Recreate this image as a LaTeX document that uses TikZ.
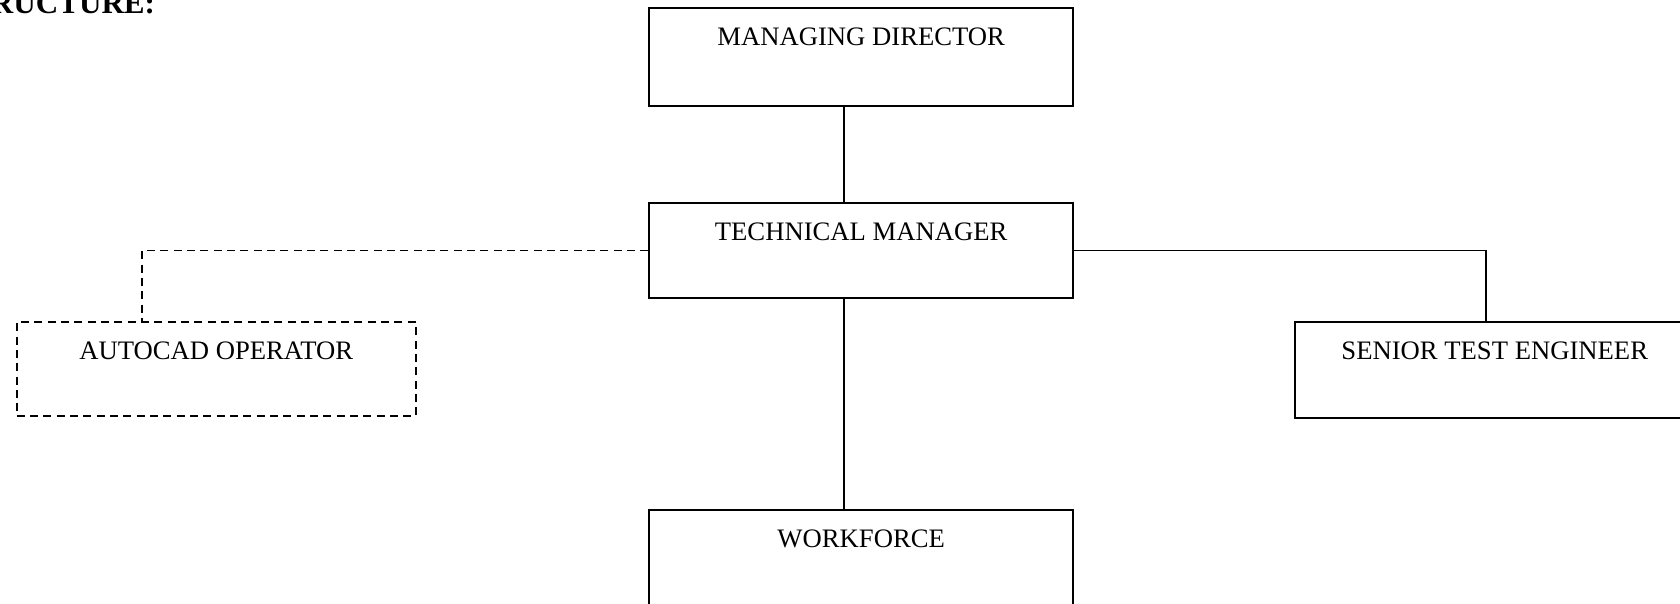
\documentclass[tikz,border=0pt]{standalone}
\usepackage{fontspec}
\setmainfont{Liberation Serif}
\tikzset{
	orgbox/.style={draw=black, line width=0.75pt, anchor=north, minimum width=6.71cm, inner ysep=0pt, text height=0.59cm, text depth=0.96cm, font=\fontsize{12}{14}\selectfont},
	link/.style={draw=black, line width=0.75pt},
	dashlink/.style={link, dash pattern=on 3.6pt off 2.4pt}
}
\begin{document}
\begin{tikzpicture}
		\useasboundingbox (0.00,0.00) rectangle (26.57,9.54);
		\node[black, anchor=base east, inner sep=0pt, font=\fontsize{14}{16}\selectfont\bfseries] (heading) at (2.46,9.32) {RUCTURE:};
		\node[orgbox] (md) at (13.62,9.43) {MANAGING DIRECTOR};
		\node[orgbox, text depth=0.91cm] (tm) at (13.62,6.34) {TECHNICAL MANAGER};
		\node[orgbox, dashlink, minimum width=6.31cm, text depth=0.90cm] (ao) at (3.42,4.46) {AUTOCAD OPERATOR};
		\node[orgbox, minimum width=6.31cm, text depth=0.93cm] (ste) at (23.64,4.46) {SENIOR TEST ENGINEER};
		\node[orgbox] (wf) at (13.62,1.49) {WORKFORCE};
		\coordinate (spine) at (13.35,0.00);
		\draw[link] (md.south -| spine) -- (tm.north -| spine);
		\draw[link] (tm.south -| spine) -- (wf.north -| spine);
		\draw[dashlink] (tm.west) -| ([xshift=-1.17cm]ao.north);
		\draw[link] (tm.east) -| ([xshift=-0.14cm]ste.north);
	\end{tikzpicture}
\end{document}
